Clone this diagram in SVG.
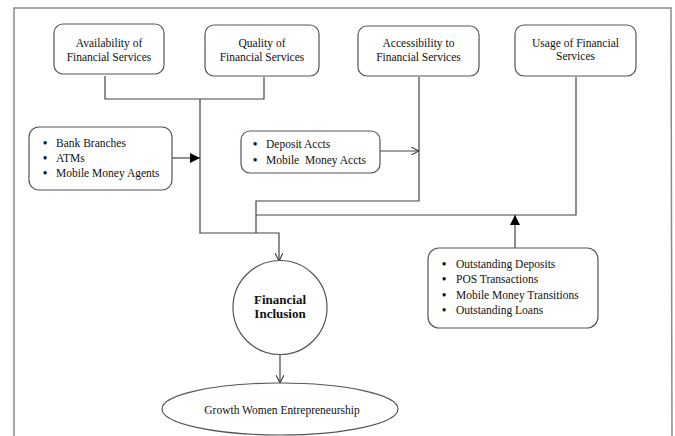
<svg xmlns="http://www.w3.org/2000/svg" width="675" height="436" viewBox="0 0 675 436">
<defs>
<style>
.frame{fill:none;stroke:#8a8a8a;stroke-width:1.5}
.box{fill:#fff;stroke:#555;stroke-width:1.2}
.ln{fill:none;stroke:#444;stroke-width:1.2}
text{font-family:"Liberation Serif","Times New Roman",serif;font-size:11.5px;fill:#111}
.c{text-anchor:middle}
.b{font-weight:bold;font-size:13px}
.bu{font-weight:bold;font-size:12px}
</style>
<marker id="fa" viewBox="0 0 10 10" refX="10" refY="5" markerWidth="10" markerHeight="10" markerUnits="userSpaceOnUse" orient="auto">
<path d="M0,0 L10,5 L0,10 Z" fill="#000"/>
</marker>
<marker id="oa" viewBox="0 0 10 10" refX="10" refY="5" markerWidth="8" markerHeight="8" markerUnits="userSpaceOnUse" orient="auto">
<path d="M0,0 L10,5 L0,10" fill="none" stroke="#333" stroke-width="1.3"/>
</marker>
</defs>
<rect x="0" y="0" width="675" height="436" fill="#fff"/>
<path class="frame" d="M14,440 L14,8 L671,8 L672,440"/>

<g id="connectors">
<path class="ln" d="M105,76 L105,99 L264,99 L264,77"/>
<path class="ln" d="M200,99 L200,233 L279,233 L279,261" marker-end="url(#oa)"/>
<path class="ln" d="M419,77 L419,201 L256,201 L256,233"/>
<path class="ln" d="M576,77 L576,215 L256,215"/>
<path class="ln" d="M172,158 L200,158" marker-end="url(#fa)"/>
<path class="ln" d="M380,151 L419,151" marker-end="url(#oa)"/>
<path class="ln" d="M515,248 L515,215" marker-end="url(#fa)"/>
<path class="ln" d="M280,354 L280,383" marker-end="url(#oa)"/>
</g>

<g id="availability">
<rect class="box" x="54" y="24" width="110" height="50" rx="9"/>
<text class="c" x="109" y="47">Availability of</text>
<text class="c" x="109" y="61">Financial Services</text>
</g>
<g id="quality">
<rect class="box" x="205" y="25" width="114" height="51" rx="9"/>
<text class="c" x="262" y="47">Quality of</text>
<text class="c" x="262" y="61">Financial Services</text>
</g>
<g id="accessibility">
<rect class="box" x="358" y="26" width="121" height="50" rx="9"/>
<text class="c" x="418.5" y="47">Accessibility to</text>
<text class="c" x="418.5" y="61">Financial Services</text>
</g>
<g id="usage">
<rect class="box" x="515" y="25" width="121" height="51" rx="9"/>
<text class="c" x="575.5" y="47">Usage of Financial</text>
<text class="c" x="575.5" y="60">Services</text>
</g>
<g id="availability-items">
<rect class="box" x="29" y="127" width="143" height="63" rx="10"/>
<text class="bu" x="43" y="147">•</text><text x="56" y="147">Bank Branches</text>
<text class="bu" x="43" y="162">•</text><text x="56" y="162">ATMs</text>
<text class="bu" x="43" y="177">•</text><text x="56" y="177">Mobile Money Agents</text>
</g>
<g id="accessibility-items">
<rect class="box" x="241" y="131" width="139" height="42" rx="9"/>
<text class="bu" x="253" y="148">•</text><text x="266" y="148">Deposit Accts</text>
<text class="bu" x="253" y="164">•</text><text x="266" y="164" xml:space="preserve">Mobile  Money Accts</text>
</g>
<g id="usage-items">
<rect class="box" x="428" y="248" width="170" height="80" rx="11"/>
<text class="bu" x="442" y="268">•</text><text x="456" y="268">Outstanding Deposits</text>
<text class="bu" x="442" y="283">•</text><text x="456" y="283">POS Transactions</text>
<text class="bu" x="442" y="299">•</text><text x="456" y="299">Mobile Money Transitions</text>
<text class="bu" x="442" y="314">•</text><text x="456" y="314">Outstanding Loans</text>
</g>
<g id="financial-inclusion">
<circle class="box" cx="280" cy="307.5" r="47"/>
<text class="c b" x="280" y="304">Financial</text>
<text class="c b" x="280" y="318">Inclusion</text>
</g>
<g id="growth">
<ellipse class="box" cx="280" cy="409" rx="118" ry="26"/>
<text class="c" x="282" y="414">Growth Women Entrepreneurship</text>
</g>
</svg>
